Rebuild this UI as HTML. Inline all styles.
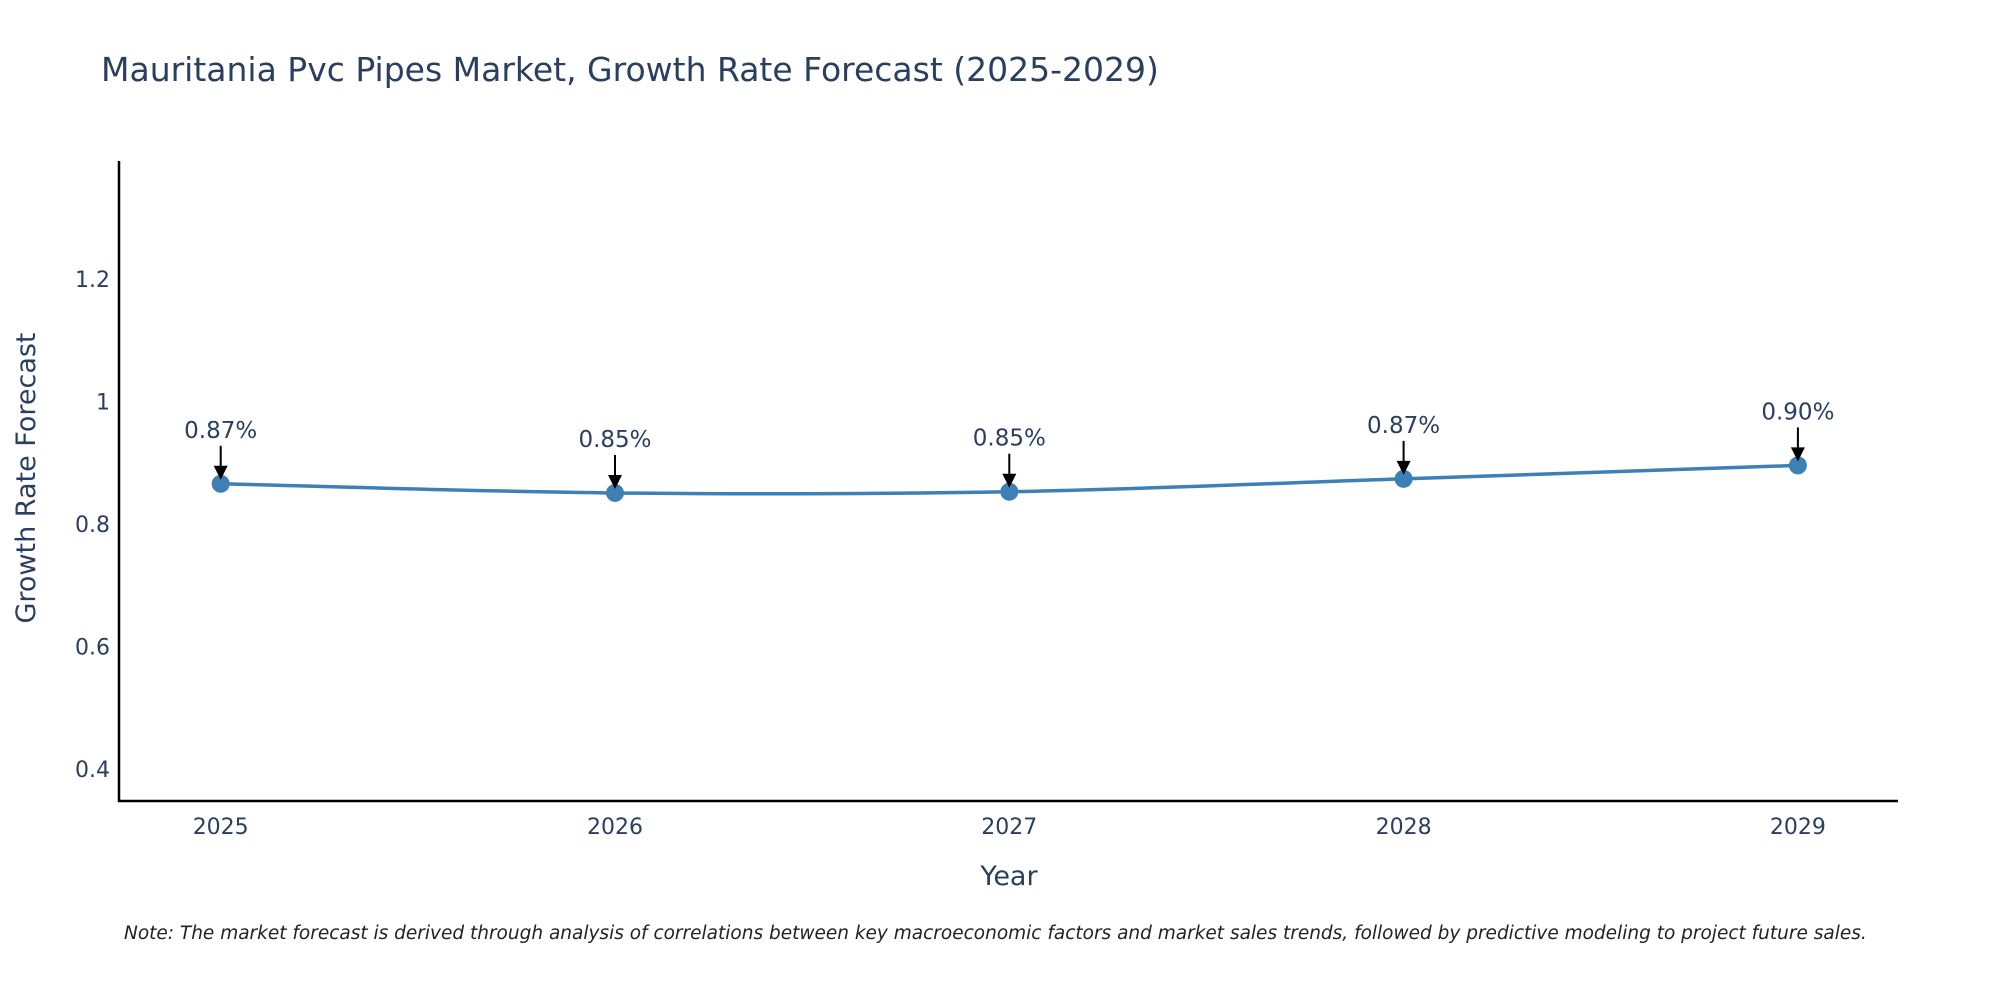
<!DOCTYPE html>
<html><head><meta charset="utf-8"><style>
body{margin:0;background:#fff;}
svg text{font-family:"DejaVu Sans","Liberation Sans",sans-serif;fill:#2a3f5f;}
</style></head><body>
<svg id="chart" width="2000" height="1000" xmlns="http://www.w3.org/2000/svg">
<text x="101" y="81" font-size="33">Mauritania Pvc Pipes Market, Growth Rate Forecast (2025-2029)</text>
<g id="yticks"></g>
<g id="xticks"></g>
<line x1="119" y1="161" x2="119" y2="802" stroke="#000" stroke-width="2.5"/>
<line x1="118" y1="801" x2="1898" y2="801" stroke="#000" stroke-width="2.5"/>
<g id="series"></g>
<g id="annos"></g>
<text transform="translate(35,478) rotate(-90)" text-anchor="middle" font-size="27">Growth Rate Forecast</text>
<text x="1009" y="885" text-anchor="middle" font-size="27">Year</text>
<text x="124" y="939" font-size="18.5" font-style="italic" style="fill:#222">Note: The market forecast is derived through analysis of correlations between key macroeconomic factors and market sales trends, followed by predictive modeling to project future sales.</text>
</svg>
<script>
const years = [2025, 2026, 2027, 2028, 2029];
const values = [0.866, 0.851, 0.853, 0.874, 0.896];
const labels = ["0.87%", "0.85%", "0.85%", "0.87%", "0.90%"];
const yTicks = [0.4, 0.6, 0.8, 1, 1.2];
const yTickLabels = ["0.4", "0.6", "0.8", "1", "1.2"];

const NS = "http://www.w3.org/2000/svg";
const yMin = 0.348, yMax = 1.393, pyTop = 161, pyBot = 801;
const xFirst = 220.7, xStep = 394.3;
const X = v => xFirst + (v - years[0]) * xStep;
const Y = v => pyBot - (v - yMin) / (yMax - yMin) * (pyBot - pyTop);
function mk(tag, attrs, parent){const e=document.createElementNS(NS,tag);for(const k in attrs)e.setAttribute(k,attrs[k]);parent.appendChild(e);return e;}

const yg=document.getElementById('yticks');
yTicks.forEach((t,i)=>{
  const e=mk('text',{x:110,y:Y(t)+8,'text-anchor':'end','font-size':22},yg);
  
  
  e.textContent=yTickLabels[i];
});
const xg=document.getElementById('xticks');
years.forEach(yr=>{
  const e=mk('text',{x:X(yr),y:834,'text-anchor':'middle','font-size':22},xg);
  
  
  e.textContent=yr;
});

const pts=years.map((yr,i)=>[X(yr),Y(values[i])]);
let d=`M${pts[0][0]},${pts[0][1]}`;
for(let i=0;i<pts.length-1;i++){
  const p0=pts[Math.max(0,i-1)],p1=pts[i],p2=pts[i+1],p3=pts[Math.min(pts.length-1,i+2)];
  const t=0.5/3;
  d+=` C${p1[0]+(p2[0]-p0[0])*t},${p1[1]+(p2[1]-p0[1])*t} ${p2[0]-(p3[0]-p1[0])*t},${p2[1]-(p3[1]-p1[1])*t} ${p2[0]},${p2[1]}`;
}
const sg=document.getElementById('series');
const line=mk('path',{d:d,fill:'none',stroke:'#3d80b5','stroke-width':3.5},sg);


pts.forEach(p=>{
  const c=mk('circle',{cx:p[0],cy:p[1],r:9,fill:'#3d80b5'},sg);
  
  
});

const ag=document.getElementById('annos');
pts.forEach((p,i)=>{
  const tip=p[1]-6, tail=tip-32;
  const l=mk('line',{x1:p[0],y1:tail,x2:p[0],y2:tip-8,stroke:'#000','stroke-width':2},ag);
  
  
  const h=mk('polygon',{points:`${p[0]-7},${tip-12} ${p[0]+7},${tip-12} ${p[0]},${tip+2}`,fill:'#000'},ag);
  
  
  const t=mk('text',{x:p[0],y:tail-8,'text-anchor':'middle','font-size':23},ag);
  
  
  t.textContent=labels[i];
});
</script>
</body></html>
